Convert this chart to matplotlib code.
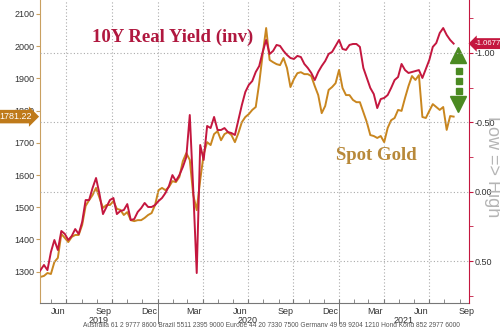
import numpy as np
import pandas as pd
import matplotlib
matplotlib.use('Agg')
import matplotlib.pyplot as plt
import matplotlib.dates as mdates
import matplotlib.transforms as mtransforms
from matplotlib.ticker import MultipleLocator, FormatStrFormatter, NullFormatter

plt.rcParams['font.family'] = ['Liberation Sans', 'DejaVu Sans']

# weekly closes (Fridays)
dates = pd.date_range('2019-04-19', periods=123, freq='W-FRI')

gold = [1281, 1284, 1277, 1284, 1287, 1296, 1293, 1330, 1343, 1417,
        1405, 1392, 1408, 1414, 1414, 1445, 1504, 1522, 1538, 1560,
        1529, 1498, 1507, 1507, 1519, 1495, 1492, 1476, 1485, 1460,
        1457, 1460, 1460, 1467, 1476, 1482, 1507, 1553, 1560, 1553,
        1563, 1581, 1578, 1594, 1643, 1668, 1647, 1538, 1491, 1584,
        1665, 1702, 1693, 1727, 1736, 1708, 1727, 1733, 1724, 1702,
        1730, 1764, 1780, 1789, 1802, 1811, 1885, 1975, 2056, 1957,
        1950, 1944, 1941, 1963, 1932, 1873, 1898, 1916, 1919, 1913,
        1913, 1907, 1876, 1848, 1792, 1814, 1864, 1873, 1885, 1926,
        1870, 1848, 1848, 1833, 1826, 1826, 1795, 1764, 1724, 1721,
        1715, 1721, 1702, 1746, 1770, 1777, 1802, 1799, 1839, 1876,
        1907, 1895, 1910, 1780, 1777, 1799, 1820, 1811, 1802, 1811,
        1740, 1783, 1781.22]

# US 10Y real yield (%), plotted on an inverted axis
real_yield = [0.586, 0.550, 0.601, 0.565, 0.528, 0.565, 0.435, 0.348, 0.420, 0.283,
              0.304, 0.348, 0.319, 0.269, 0.305, 0.218, 0.060, 0.060, -0.027, -0.099,
              0.017, 0.161, 0.110, 0.060, 0.045, 0.161, 0.139, 0.132, 0.089, 0.204,
              0.197, 0.146, 0.118, 0.081, 0.110, 0.110, 0.096, 0.067, 0.045, 0.009,
              -0.041, -0.120, -0.077, -0.120, -0.178, -0.250, -0.553, -0.012, 0.586, -0.337,
              -0.229, -0.474, -0.459, -0.539, -0.445, -0.445, -0.459, -0.430, -0.423, -0.409,
              -0.517, -0.625, -0.719, -0.770, -0.798, -0.863, -0.906, -1.008, -1.094, -0.993,
              -1.015, -1.058, -1.051, -1.015, -0.986, -0.964, -0.957, -0.979, -0.971, -0.921,
              -0.892, -0.856, -0.805, -0.863, -0.906, -0.942, -0.993, -1.008, -1.051, -1.094,
              -1.029, -1.022, -1.058, -1.065, -1.065, -1.044, -0.892, -0.820, -0.748, -0.704,
              -0.603, -0.668, -0.676, -0.697, -0.748, -0.805, -0.827, -0.921, -0.877, -0.856,
              -0.863, -0.870, -0.877, -0.820, -0.885, -0.950, -1.044, -1.072, -1.144, -1.180,
              -1.130, -1.094, -1.0677]

gold_ticks = list(range(1300, 2101, 100))
yield_ticks = [-1.0, -0.5, 0.0, 0.5]

RED = '#C4173F'
GOLD = '#C9861F'
GOLD_TAG = '#BF7A1A'
GREEN = '#4B8A22'
GRID = '#AAAAAA'

fig = plt.figure(figsize=(5, 3.27), dpi=100)
ax = fig.add_axes([0.08, 0.0734, 0.858, 0.9266])
ax2 = ax.twinx()

ax.plot(dates, gold, color=GOLD, lw=1.4)
ax2.plot(dates, real_yield, color=RED, lw=1.4)

x0, x1 = pd.Timestamp('2019-05-09'), pd.Timestamp('2021-09-20')
ax.set_xlim(x0, x1)
ax.set_ylim(1203, 2143)
ax2.set_ylim(0.802, -1.382)

# grid
ax.xaxis.set_major_locator(mdates.MonthLocator(bymonth=[1, 4, 7, 10]))
ax.xaxis.set_minor_locator(mdates.MonthLocator())
ax.xaxis.set_major_formatter(NullFormatter())
ax.xaxis.grid(True, color=GRID, linestyle=(0, (1, 2)), lw=0.8)
ax2.yaxis.grid(True, color=GRID, linestyle=(0, (1, 2)), lw=0.8)
ax2.set_axisbelow(True)

# spines
for a in (ax, ax2):
    a.spines['top'].set_visible(False)
ax2.spines['left'].set_visible(False)
ax2.spines['bottom'].set_visible(False)
ax.spines['right'].set_visible(False)
ax.spines['left'].set_color('#C9A060')
ax2.spines['right'].set_color(RED)
ax.spines['bottom'].set_color('#777777')

ax.set_yticks(gold_ticks)
ax.tick_params(axis='y', labelsize=6.5, labelcolor='#333333', color='#C9A060', length=3, pad=1)
ax2.set_yticks(yield_ticks)
ax2.yaxis.set_minor_locator(MultipleLocator(0.25))
ax2.yaxis.set_major_formatter(FormatStrFormatter('%.2f'))
ax2.tick_params(axis='y', which='both', labelsize=6.5, labelcolor='#333333', color=RED, length=3, pad=1)
ax.tick_params(axis='x', which='both', direction='in', length=3, color='#777777')

# month and year labels under the axis
xtr = ax.get_xaxis_transform()
months = pd.date_range('2019-06-01', '2021-09-01', freq='3MS') + pd.Timedelta(days=14)
for m in months:
    ax.text(m, -0.028, m.strftime('%b'), transform=xtr, ha='center', va='center',
            fontsize=6.5, color='#333333')
for year in [2019, 2020, 2021]:
    start = max(pd.Timestamp(f'{year}-01-01'), x0)
    end = min(pd.Timestamp(f'{year}-12-31'), x1)
    ax.text(start + (end - start) / 2, -0.059, str(year), transform=xtr,
            ha='center', va='center', fontsize=6.5, color='#333333')
    if year > 2019:
        ax.plot([pd.Timestamp(f'{year}-01-01')] * 2, [0, -0.065], transform=xtr,
                color='#777777', lw=0.7, clip_on=False)

# series names
ax.text(0.308, 0.861, '10Y Real Yield (inv)', transform=ax.transAxes, ha='center',
        va='baseline', fontsize=13.5, fontweight='bold', family='Liberation Serif', color='#B0183F')
ax.text(0.783, 0.472, 'Spot Gold', transform=ax.transAxes, ha='center',
        va='baseline', fontsize=13.5, fontweight='bold', family='Liberation Serif', color='#B8893A')

# last value tags
ax2.annotate(f'{real_yield[-1]:.4f}', xy=(1, real_yield[-1]),
             xycoords=mtransforms.blended_transform_factory(ax2.transAxes, ax2.transData),
             xytext=(4, 0), textcoords='offset points', ha='left', va='center',
             fontsize=5.6, color='white', annotation_clip=False,
             bbox=dict(boxstyle='larrow,pad=0.25', fc=RED, ec='none'))
ax.annotate(f'{gold[-1]:.2f}', xy=(0, gold[-1]),
            xycoords=mtransforms.blended_transform_factory(ax.transAxes, ax.transData),
            xytext=(-6, 0), textcoords='offset points', ha='right', va='center',
            fontsize=6.5, color='white', annotation_clip=False,
            bbox=dict(boxstyle='rarrow,pad=0.25', fc=GOLD_TAG, ec='none'))

# green double arrow
ax.plot(0.9755, 0.817, marker='^', ms=12, color=GREEN, transform=ax.transAxes, clip_on=False)
ax.plot(0.9755, 0.658, marker='v', ms=12, color=GREEN, transform=ax.transAxes, clip_on=False)
ax.plot([0.977] * 3, [0.767, 0.734, 0.701], 's', ms=4.5, color=GREEN,
        transform=ax.transAxes, clip_on=False)

fig.text(0.984, 0.49, 'Low => High', rotation=270, ha='center', va='center',
         fontsize=13, color='#B5B5B5')

fig.text(0.542, 0.014, 'Australia 61 2 9777 8600 Brazil 5511 2395 9000 Europe 44 20 7330 7500 '
         'Germany 49 69 9204 1210 Hong Kong 852 2977 6000',
         ha='center', va='top', fontsize=4.8, color='#555555')

fig.savefig('out.png', dpi=100)
